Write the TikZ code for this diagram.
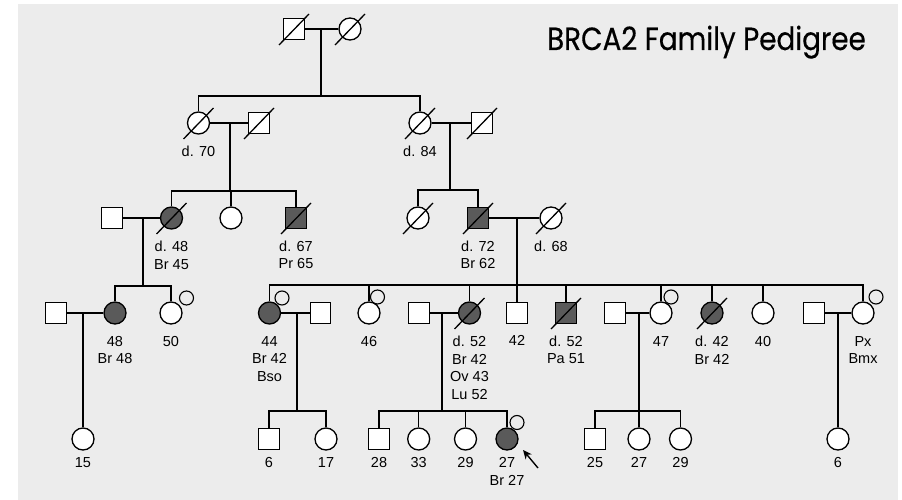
\documentclass[tikz,border=0pt]{standalone}
\usepackage{fontspec}
\setmainfont{Liberation Sans}
\newfontfamily\titelfont[FakeBold=0.4]{Poppins}
\usetikzlibrary{arrows.meta, positioning, calc}
\definecolor{grund}{RGB}{236,236,236}
\definecolor{krankgrau}{RGB}{90,90,90}
\newcommand{\tot}[1]{\draw[linie] ($(#1)+(-15,16)$) -- ($(#1)+(15,-15)$);}
\tikzset{
  person/.style={draw, line width=1.3pt, fill=white, inner sep=0pt},
  mann/.style={person, rectangle, minimum size=20.5pt},
  frau/.style={person, circle, minimum size=22pt},
  krank/.style={fill=krankgrau},
  klein/.style={draw, circle, line width=1.1pt, minimum size=14pt, inner sep=0pt},
  linie/.style={line width=1.3pt},
  beschr/.style={align=center, inner sep=0pt, font=\fontsize{14.5}{17.5}\selectfont},
  pfeil/.style={-{Stealth[length=9pt, width=8pt]}, line width=1.4pt},
}

\begin{document}
\begin{tikzpicture}[x=1pt, y=-1pt]
  \useasboundingbox (0,0) rectangle (902,500);
  \fill[white] (0,0) rectangle (902,500);
  \fill[grund] (18,4) rectangle (898,500);

  \node[anchor=base, inner sep=0pt, font=\titelfont\fontsize{32}{36}\selectfont] (titel) at (706.5,50) {\scalebox{0.87}[1]{BRCA2 Family Pedigree}};

  \node[mann] (I1) at (294,29) {};
  \node[frau] (I2) at (350,29) {};

  \node[frau] (II1) at (198.5,123) {};
  \node[mann] (II2) at (259,123) {};
  \node[frau] (II3) at (420,123) {};
  \node[mann] (II4) at (482,123) {};
  \node[beschr, below=11.5pt of II1] (tII1) {d. 70};
  \node[beschr, below=11.5pt of II3] (tII3) {d. 84};

  \node[mann] (III1) at (112,218) {};
  \node[frau, krank] (III2) at (171.5,218) {};
  \node[frau] (III3) at (231,218) {};
  \node[mann, krank] (III4) at (296,218) {};
  \node[frau] (III5) at (418,218) {};
  \node[mann, krank] (III6) at (478,218) {};
  \node[frau] (III7) at (551,218) {};
  \node[beschr, below=11.5pt of III2] (tIII2) {d. 48\\Br 45};
  \node[beschr, below=11.5pt of III4] (tIII4) {d. 67\\Pr 65};
  \node[beschr, below=11.5pt of III6] (tIII6) {d. 72\\Br 62};
  \node[beschr, below=11.5pt of III7] (tIII7) {d. 68};

  \node[mann] (IV1) at (56,313) {};
  \node[frau, krank] (IV2) at (115,313) {};
  \node[frau] (IV3) at (171,313) {};
  \node[frau, krank] (IV4) at (269.5,313) {};
  \node[mann] (IV5) at (320.5,313) {};
  \node[frau] (IV6) at (369,313) {};
  \node[mann] (IV7) at (419,313) {};
  \node[frau, krank] (IV8) at (469.5,313) {};
  \node[mann] (IV9) at (517,313) {};
  \node[mann, krank] (IV10) at (566,313) {};
  \node[mann] (IV11) at (615,313) {};
  \node[frau] (IV12) at (661,313) {};
  \node[frau, krank] (IV13) at (712,313) {};
  \node[frau] (IV14) at (763,313) {};
  \node[mann] (IV15) at (814,313) {};
  \node[frau] (IV16) at (863,313) {};
  \node[klein] (kIV3) at (186.5,298) {};
  \node[klein] (kIV4) at (282,298) {};
  \node[klein] (kIV6) at (377.5,297) {};
  \node[klein] (kIV12) at (671,297) {};
  \node[klein] (kIV16) at (876,297) {};
  \node[beschr, below=11.5pt of IV2] (tIV2) {48\\Br 48};
  \node[beschr, below=11.5pt of IV3] (tIV3) {50};
  \node[beschr, below=11.5pt of IV4] (tIV4) {44\\Br 42\\Bso};
  \node[beschr, below=11.5pt of IV6] (tIV6) {46};
  \node[beschr, below=11.5pt of IV8] (tIV8) {d. 52\\Br 42\\Ov 43\\Lu 52};
  \node[beschr, below=11.5pt of IV9] (tIV9) {42};
  \node[beschr, below=11.5pt of IV10] (tIV10) {d. 52\\Pa 51};
  \node[beschr, below=11.5pt of IV12] (tIV12) {47};
  \node[beschr, below=11.5pt of IV13] (tIV13) {d. 42\\Br 42};
  \node[beschr, below=11.5pt of IV14] (tIV14) {40};
  \node[beschr, below=11.5pt of IV16] (tIV16) {Px\\Bmx};

  \node[frau] (V1) at (83,439) {};
  \node[mann] (V2) at (269,439) {};
  \node[frau] (V3) at (326,439) {};
  \node[mann] (V4) at (379,439) {};
  \node[frau] (V5) at (418.7,439) {};
  \node[frau] (V6) at (465.5,439) {};
  \node[frau, krank] (V7) at (507,439) {};
  \node[mann] (V8) at (595,439) {};
  \node[frau] (V9) at (639,439) {};
  \node[frau] (V10) at (680.5,439) {};
  \node[frau] (V11) at (838,439) {};
  \node[klein] (kV7) at (517,422.5) {};
  \foreach \p/\t in {V1/15, V2/6, V3/17, V4/28, V5/33, V6/29, V8/25, V9/27, V10/29, V11/6}
    \node[beschr, below=7pt of \p] (t\p) {\t};
  \node[beschr, below=7pt of V7] (tV7) {27\\Br 27};

  \coordinate (e1) at (321,29);  \coordinate (g1) at (321,96);
  \coordinate (e2) at (230,123); \coordinate (g2) at (230,191);
  \coordinate (e3) at (450,123); \coordinate (g3) at (450,190);
  \coordinate (e4) at (143,218); \coordinate (g4) at (143,286);
  \coordinate (e5) at (517,218); \coordinate (g5) at (517,285);
  \coordinate (e6) at (83,313);
  \coordinate (e7) at (297,313); \coordinate (g7) at (297,411);
  \coordinate (e8) at (442,313); \coordinate (g8) at (442,411);
  \coordinate (e9) at (639,313); \coordinate (g9) at (639,411);
  \coordinate (e10) at (838,313);

  \draw[linie] (I1) -- (I2);
  \draw[linie] (e1) -- (g1);
  \draw[linie] (II1.north) -- (II1.north |- g1) -- (II3.north |- g1) -- (II3.north);

  \draw[linie] (II1) -- (II2);
  \draw[linie] (e2) -- (g2);
  \draw[linie] (III2.north) -- (III2.north |- g2) -- (III4.north |- g2) -- (III4.north);
  \draw[linie] (III3.north) -- (III3.north |- g2);

  \draw[linie] (II3) -- (II4);
  \draw[linie] (e3) -- (g3);
  \draw[linie] (III5.north) -- (III5.north |- g3) -- (III6.north |- g3) -- (III6.north);

  \draw[linie] (III1) -- (III2);
  \draw[linie] (e4) -- (g4);
  \draw[linie] (IV2.north) -- (IV2.north |- g4) -- (IV3.north |- g4) -- (IV3.north);

  \draw[linie] (III6) -- (III7);
  \draw[linie] (e5) -- (g5);
  \draw[linie] (IV4.north) -- (IV4.north |- g5) -- (IV16.north |- g5) -- (IV16.north);
  \foreach \k in {IV6, IV8, IV9, IV10, IV12, IV13, IV14}
    \draw[linie] (\k.north) -- (\k.north |- g5);

  \draw[linie] (IV1) -- (IV2);
  \draw[linie] (e6) -- (V1);

  \draw[linie] (IV4) -- (IV5);
  \draw[linie] (e7) -- (g7);
  \draw[linie] (V2.north) -- (V2.north |- g7) -- (V3.north |- g7) -- (V3.north);

  \draw[linie] (IV7) -- (IV8);
  \draw[linie] (e8) -- (g8);
  \draw[linie] (V4.north) -- (V4.north |- g8) -- (V7.north |- g8) -- (V7.north);
  \foreach \k in {V5, V6}
    \draw[linie] (\k.north) -- (\k.north |- g8);

  \draw[linie] (IV11) -- (IV12);
  \draw[linie] (e9) -- (g9);
  \draw[linie] (V8.north) -- (V8.north |- g9) -- (V10.north |- g9) -- (V10.north);
  \draw[linie] (V9.north) -- (V9.north |- g9);

  \draw[linie] (IV15) -- (IV16);
  \draw[linie] (e10) -- (V11);

  \foreach \k in {I1, I2, II1, II2, II3, II4, III2, III4, III5, III6, III7, IV8, IV10, IV13}
    {\tot{\k}}

  \coordinate (pfa) at (538,468);
  \coordinate (pfe) at (523,450);
  \draw[pfeil] (pfa) -- (pfe);
\end{tikzpicture}
\end{document}
